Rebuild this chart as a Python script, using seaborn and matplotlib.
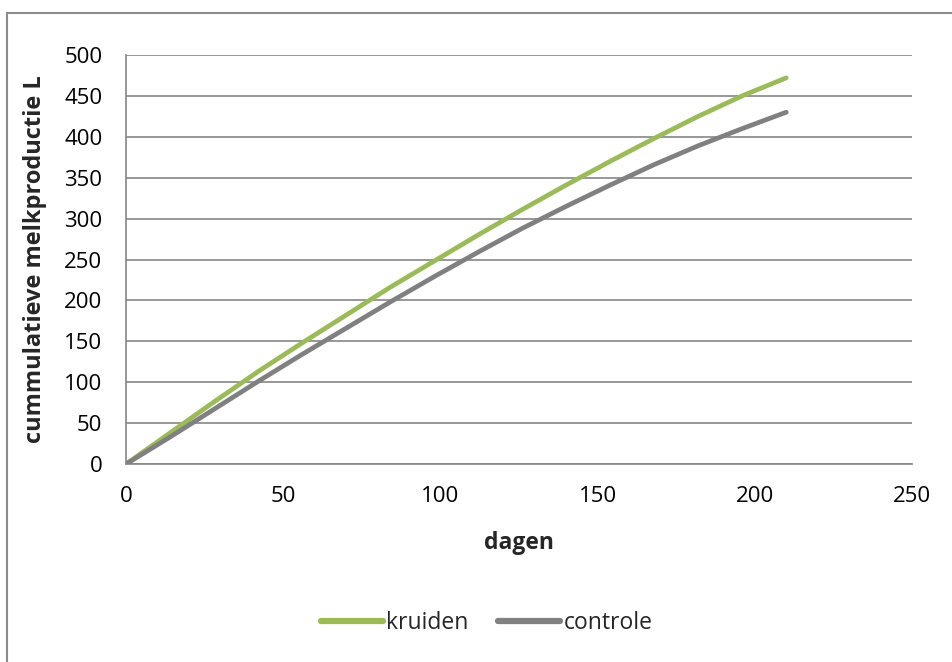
import pandas as pd
import matplotlib.pyplot as plt
import seaborn as sns
from matplotlib.lines import Line2D

dagen = [0, 14, 28, 42, 56, 70, 84, 98, 112, 126, 140, 154, 168, 182, 196, 210]
kruiden = [0, 38, 76, 113, 148, 182, 216, 248, 280, 311, 341, 370, 398, 425, 450, 472]
controle = [0, 33, 67, 101, 134, 166, 198, 229, 259, 288, 315, 341, 366, 389, 410, 430]

df = pd.DataFrame({
    "dagen": dagen * 2,
    "melk": kruiden + controle,
    "groep": ["kruiden"] * len(dagen) + ["controle"] * len(dagen),
})

sns.set_theme(style="white")
plt.rcParams["font.family"] = ["Open Sans", "DejaVu Sans"]

fig = plt.figure(figsize=(9.53, 6.62), dpi=100)
ax = fig.add_axes([0.1322, 0.299, 0.8248, 0.618])

grijs = "#868686"
sns.lineplot(data=df, x="dagen", y="melk", hue="groep",
             palette={"kruiden": "#9bbb59", "controle": "#808080"},
             linewidth=3.4, ax=ax, solid_capstyle="round", solid_joinstyle="round")

ax.set_xlim(0, 250)
ax.set_ylim(0, 500)
ax.set_xticks(range(0, 251, 50))
ax.set_yticks(range(0, 501, 50))
ax.yaxis.grid(True, color=grijs, linewidth=1.2)
ax.set_axisbelow(True)
for s in ["top", "right"]:
    ax.spines[s].set_visible(False)
for s in ["left", "bottom"]:
    ax.spines[s].set_color(grijs)
    ax.spines[s].set_linewidth(1.2)
ax.tick_params(axis="both", direction="out", length=6, width=1.2, color=grijs,
               labelsize=16, labelcolor="black")
ax.tick_params(axis="y", pad=11)
ax.tick_params(axis="x", pad=10)
ax.set_xlabel("dagen", fontsize=16.5, fontweight="bold")
ax.set_ylabel("cummulatieve melkproductie L", fontsize=17, fontweight="bold")
ax.xaxis.set_label_coords(0.5, -0.164)
ax.yaxis.set_label_coords(-0.10, 0.5)

leg = ax.legend(loc="center", bbox_to_anchor=(0.459, -0.389), ncol=2, frameon=False,
                fontsize=16.5, handlelength=2.7, handletextpad=0.15, columnspacing=1.3)
for line in leg.get_lines():
    line.set_linewidth(4.5)

# rand van het grafiekvak (alleen boven en links zichtbaar)
rand = dict(color="#8c8c8c", linewidth=1.5, transform=fig.transFigure)
fig.lines.append(Line2D([0.0073, 1.0], [1 - 13 / 662, 1 - 13 / 662], **rand))
fig.lines.append(Line2D([0.0073, 0.0073], [0.0, 1 - 13 / 662], **rand))

fig.savefig("out.png", dpi=100)
